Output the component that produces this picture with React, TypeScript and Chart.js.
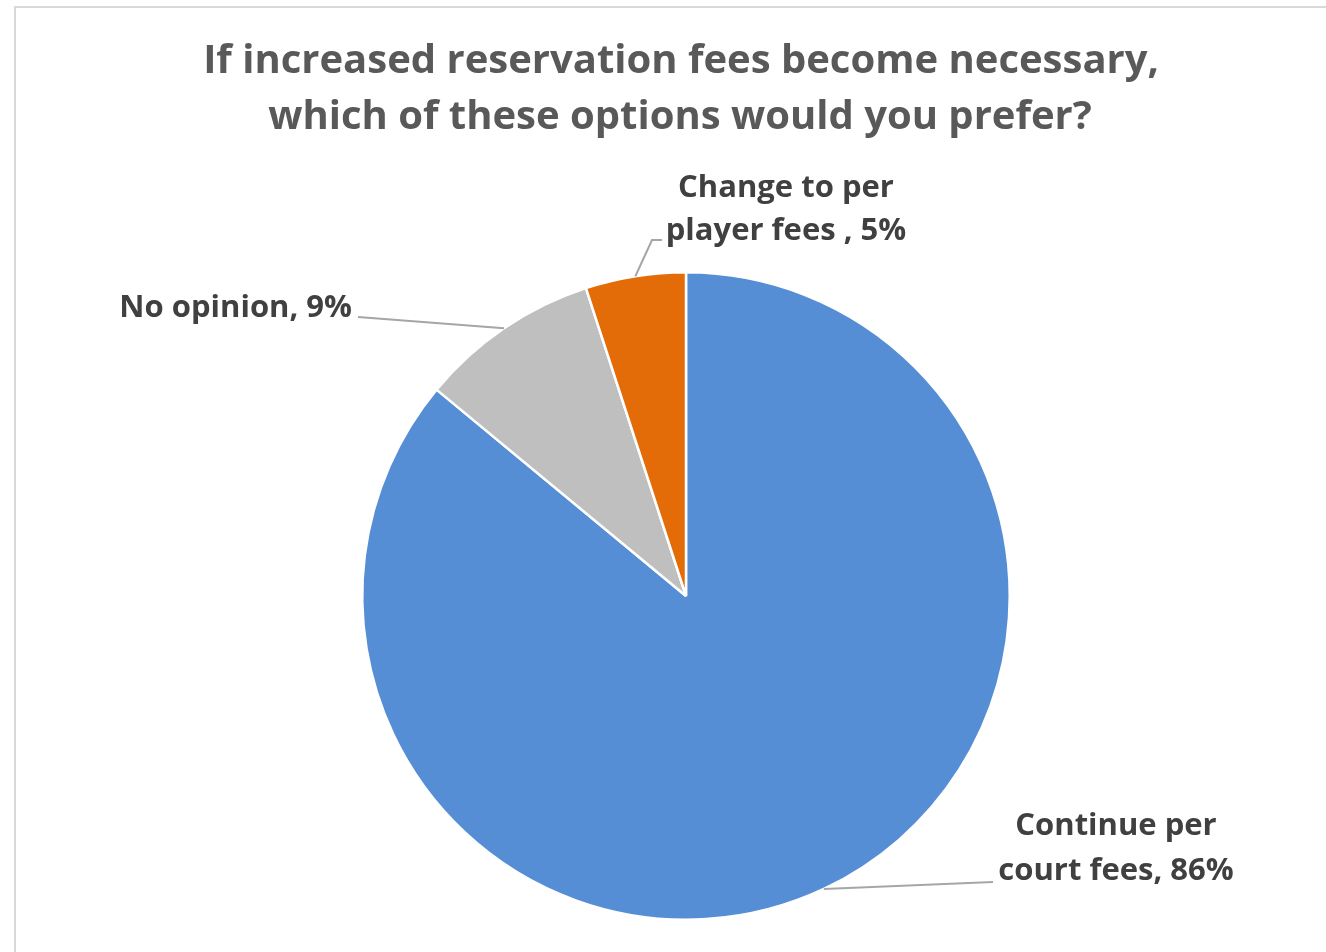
import React, { useEffect, useRef } from "react";
import { Chart, registerables } from "chart.js";

Chart.register(...registerables);

const categories = ["Continue per court fees", "No opinion", "Change to per player fees "];
const values = [86, 9, 5];
const colors = ["#558ED5", "#BFBFBF", "#E36C09"];
const titleLines = [
  "If increased reservation fees become necessary,",
  "which of these options would you prefer?",
];
// words on the first line of each wrapped label (0 = no wrap)
const wrapAfterWords = [2, 0, 3];

const W = 1326;
const H = 952;
const FONT = "'Open Sans', 'DejaVu Sans', sans-serif";
const TITLE_SIZE = 40;
const LABEL_SIZE = 31;

// label layout relative to pie centre (style, not data)
const labelLayout = [
  { path: [[307, 286]], align: "center", x: 430, baselines: [239, 284] },
  { path: [[-328, -279]], align: "right", x: -334, baselines: [-279] },
  { path: [[-34, -356], [-24, -356]], align: "center", x: 100, baselines: [-399, -356] },
];

function labelText(i: number): string[] {
  const full = `${categories[i]}, ${values[i]}%`;
  const n = wrapAfterWords[i];
  if (!n) return [full];
  const words = full.split(" ");
  return [words.slice(0, n).join(" "), words.slice(n).join(" ")];
}

const overlayPlugin = {
  id: "overlay",
  afterDraw(chart: any) {
    const ctx = chart.ctx as CanvasRenderingContext2D;
    const meta = chart.getDatasetMeta(0);
    ctx.save();
    // title
    ctx.fillStyle = "#595959";
    ctx.font = `700 ${TITLE_SIZE}px ${FONT}`;
    ctx.textAlign = "center";
    ctx.textBaseline = "alphabetic";
    ctx.fillText(titleLines[0], 681, 73);
    ctx.fillText(titleLines[1], 680, 129);

    meta.data.forEach((arc: any, i: number) => {
      const { x: cx, y: cy, startAngle, endAngle, outerRadius } = arc.getProps(
        ["x", "y", "startAngle", "endAngle", "outerRadius"],
        true
      );
      const mid = (startAngle + endAngle) / 2;
      const sx = cx + Math.cos(mid) * outerRadius;
      const sy = cy + Math.sin(mid) * outerRadius;
      const lay = labelLayout[i];
      ctx.strokeStyle = "#A6A6A6";
      ctx.lineWidth = 2;
      ctx.beginPath();
      ctx.moveTo(sx, sy);
      lay.path.forEach(([dx, dy]) => ctx.lineTo(cx + dx, cy + dy));
      ctx.stroke();

      ctx.fillStyle = "#404040";
      ctx.font = `700 ${LABEL_SIZE}px ${FONT}`;
      ctx.textAlign = lay.align as CanvasTextAlign;
      const lines = labelText(i);
      lines.forEach((ln, k) => {
        ctx.fillText(ln, cx + lay.x, cy + lay.baselines[k]);
      });
    });
    ctx.restore();
  },
};

export default function App() {
  const ref = useRef<HTMLCanvasElement | null>(null);
  useEffect(() => {
    if (!ref.current) return;
    const chart = new Chart(ref.current, {
      type: "pie",
      data: {
        labels: categories,
        datasets: [
          {
            data: values,
            backgroundColor: colors,
            borderColor: "#FFFFFF",
            borderWidth: 2.5,
          },
        ],
      },
      options: {
        responsive: false,
        animation: false,
        devicePixelRatio: 1,
        layout: { padding: { left: 361, right: 315, top: 271, bottom: 31 } },
        plugins: {
          legend: { display: false },
          title: { display: false },
          tooltip: { enabled: false },
        },
      },
      plugins: [overlayPlugin],
    });
    return () => chart.destroy();
  }, []);

  return (
    <div style={{ position: "fixed", left: 0, top: 0, width: W, height: H, background: "#fff", overflow: "hidden" }}>
      <div
        style={{
          position: "absolute",
          left: 14,
          top: 6,
          width: W + 20,
          height: H + 20,
          border: "2px solid #D9D9D9",
          boxSizing: "border-box",
        }}
      />
      <canvas ref={ref} width={W} height={H} style={{ position: "absolute", left: 0, top: 0, width: W, height: H }} />
    </div>
  );
}
